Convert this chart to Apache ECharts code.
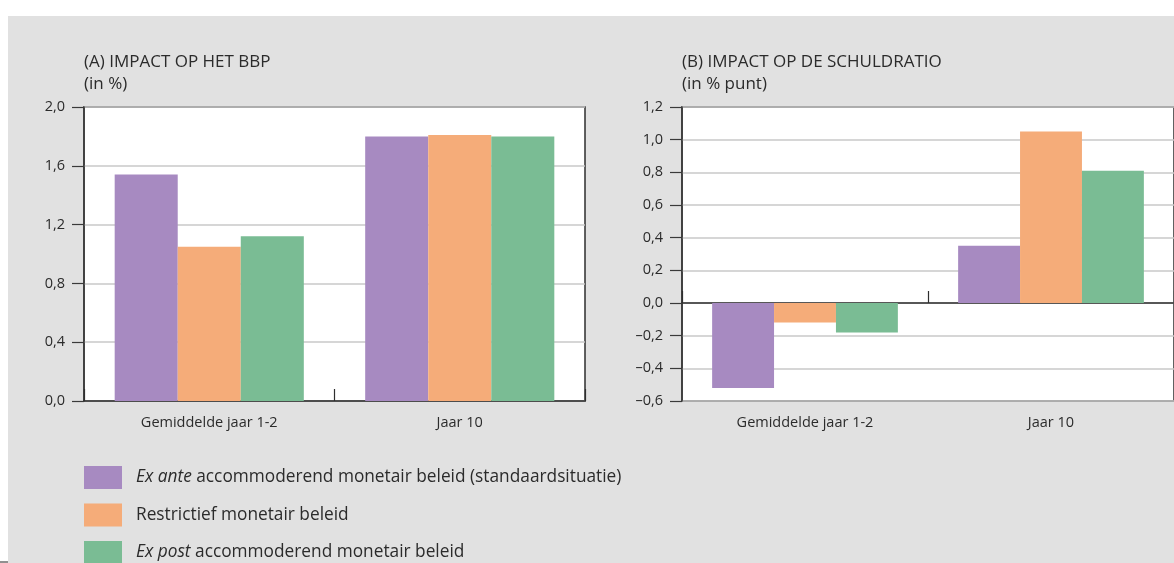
<!DOCTYPE html>
<html>
<head>
<meta charset="utf-8">
<script src="https://cdn.jsdelivr.net/npm/echarts@6/dist/echarts.min.js"></script>
<style>
html,body{margin:0;padding:0;background:#fff;}
#c{width:1174px;height:563px;}
</style>
</head>
<body>
<div id="c"></div>
<script>
const categories = ['Gemiddelde jaar 1-2', 'Jaar 10'];
const seriesNames = [
  'Ex ante accommoderend monetair beleid (standaardsituatie)',
  'Restrictief monetair beleid',
  'Ex post accommoderend monetair beleid'
];
const gdpExAnte = [1.54, 1.80];
const gdpRestrictief = [1.05, 1.81];
const gdpExPost = [1.12, 1.80];
const debtExAnte = [-0.52, 0.35];
const debtRestrictief = [-0.12, 1.05];
const debtExPost = [-0.18, 0.81];
const titleA = '(A) IMPACT OP HET BBP';
const unitA = '(in %)';
const titleB = '(B) IMPACT OP DE SCHULDRATIO';
const unitB = '(in % punt)';

const colors = ['#a78ac1', '#f5ac79', '#7abc94'];
const FONT = 'Open Sans';
const TXT = '#2b2b2b';

function fmt(v) {
  const s = Math.abs(v).toFixed(1).replace('.', ',');
  return v < -1e-9 ? '\u2013' + s : s;
}

const chart = echarts.init(document.getElementById('c'), null, {renderer: 'canvas'});

function yAxis(gridIndex, min, max, interval) {
  return {
    type: 'value', gridIndex, min, max, interval,
    axisLine: {show: true, lineStyle: {color: '#3a3a3a', width: 1.5}},
    axisTick: {show: true, length: 12, lineStyle: {color: '#3a3a3a', width: 1.2}},
    axisLabel: {formatter: fmt, color: TXT, fontFamily: FONT, fontSize: 14.5, margin: 19},
    splitLine: {show: true, lineStyle: {color: '#c8c8c8', width: 1.5}}
  };
}

function bars(name, data, idx, axisIdx) {
  return {
    type: 'bar', name, data,
    xAxisIndex: axisIdx, yAxisIndex: idx,
    barGap: '0%', barCategoryGap: '24.5%',
    itemStyle: {color: colors[seriesNames.indexOf(name)]},
    emphasis: {disabled: true}
  };
}

function legendFor(i, top) {
  return {
    orient: 'vertical', left: 84, top: top, padding: 0,
    itemWidth: 38, itemHeight: 23,
    icon: 'rect',
    selectedMode: false,
    data: [seriesNames[i]],
    formatter: function (n) {
      if (n.indexOf('Ex ante ') === 0) return '{sp|}{it|Ex ante}{n| ' + n.slice(8) + '}';
      if (n.indexOf('Ex post ') === 0) return '{sp|}{it|Ex post}{n| ' + n.slice(8) + '}';
      return '{sp|}{n|' + n + '}';
    },
    textStyle: {
      fontFamily: FONT, fontSize: 17.3, color: TXT,
      rich: {
        sp: {width: 9},
        it: {fontStyle: 'italic', fontFamily: FONT, fontSize: 17.3, color: TXT},
        n: {fontFamily: FONT, fontSize: 17.3, color: TXT}
      }
    }
  };
}

const option = {
  animation: false,
  backgroundColor: '#ffffff',
  graphic: [
    {type: 'rect', left: 8, top: 16, z: -10, shape: {width: 1166, height: 547}, style: {fill: '#e1e1e1'}, silent: true},
    {type: 'line', z: -9, shape: {x1: 0, y1: 562, x2: 8, y2: 562}, style: {stroke: '#222', lineWidth: 1}, silent: true}
  ],
  title: [
    {text: titleA + '\n' + unitA, left: 84, top: 51, padding: 0,
     textStyle: {fontFamily: FONT, fontSize: 17, fontWeight: 'normal', color: TXT, lineHeight: 22}},
    {text: titleB + '\n' + unitB, left: 682, top: 51, padding: 0,
     textStyle: {fontFamily: FONT, fontSize: 17, fontWeight: 'normal', color: TXT, lineHeight: 22}}
  ],
  legend: [legendFor(0, 466), legendFor(1, 503.5), legendFor(2, 541)],
  grid: [
    {left: 84, top: 107, width: 501, height: 294, show: true, backgroundColor: '#ffffff', borderColor: '#2e2e2e', borderWidth: 1.5},
    {left: 682, top: 107, width: 501.4, height: 294, show: true, backgroundColor: '#ffffff', borderColor: '#2e2e2e', borderWidth: 1.5}
  ],
  xAxis: [
    {type: 'category', gridIndex: 0, data: categories, position: 'bottom',
     axisLine: {show: true, onZero: true, lineStyle: {color: '#2e2e2e', width: 1.5}},
     axisTick: {show: true, inside: true, length: 12, interval: 0, lineStyle: {color: '#2e2e2e', width: 1.2}},
     axisLabel: {color: TXT, fontFamily: FONT, fontSize: 14.5, margin: 14}},
    {type: 'category', gridIndex: 1, data: categories, position: 'bottom',
     axisLine: {show: true, onZero: true, lineStyle: {color: '#2e2e2e', width: 1.5}},
     axisTick: {show: true, inside: true, length: 12, interval: 0, lineStyle: {color: '#2e2e2e', width: 1.2}},
     axisLabel: {show: false}},
    {type: 'category', gridIndex: 1, data: categories, position: 'bottom',
     axisLine: {show: false, onZero: false},
     axisTick: {show: false},
     axisLabel: {color: TXT, fontFamily: FONT, fontSize: 14.5, margin: 14}}
  ],
  yAxis: [
    yAxis(0, 0, 2.0, 0.4),
    yAxis(1, -0.6, 1.2, 0.2)
  ],
  series: [
    bars(seriesNames[0], gdpExAnte, 0, 0),
    bars(seriesNames[1], gdpRestrictief, 0, 0),
    bars(seriesNames[2], gdpExPost, 0, 0),
    bars(seriesNames[0], debtExAnte, 1, 1),
    bars(seriesNames[1], debtRestrictief, 1, 1),
    bars(seriesNames[2], debtExPost, 1, 1)
  ]
};
chart.setOption(option);
</script>
</body>
</html>
